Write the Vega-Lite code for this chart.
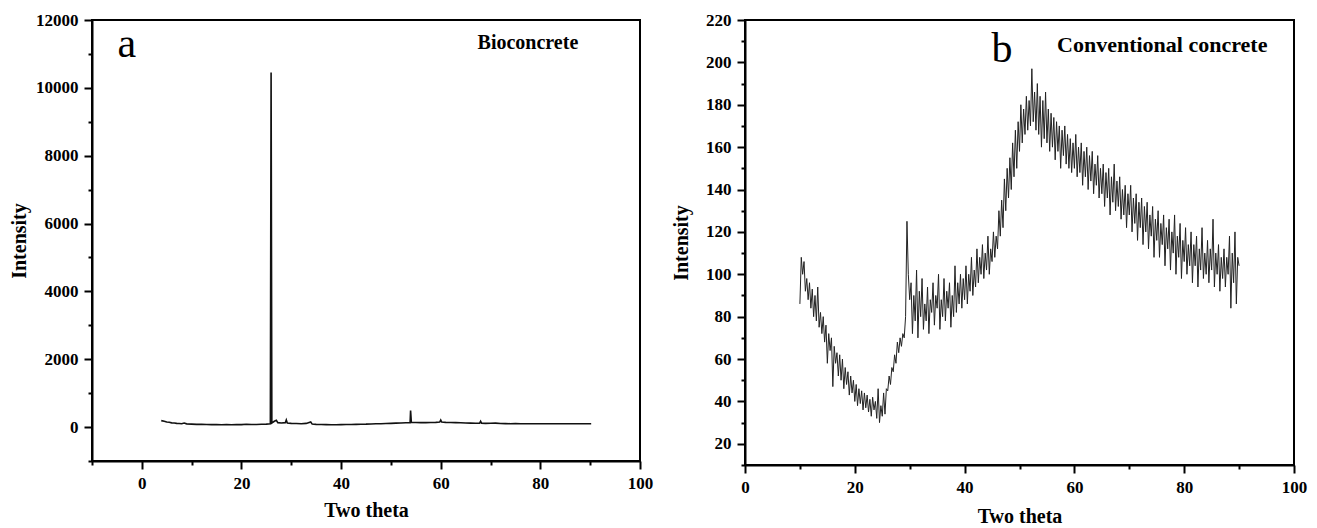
{
  "$schema": "https://vega.github.io/schema/vega-lite/v6.json",
  "padding": {"left": 8, "top": 10, "right": 5, "bottom": 0},
  "background": "white",
  "spacing": 105,
  "bounds": "flush",
  "datasets": {
    "bio": [
      {"t": 3.9, "i": 190}, {"t": 4.5, "i": 170}, {"t": 5, "i": 150}, {"t": 5.5, "i": 140}, {"t": 6, "i": 125},
      {"t": 6.5, "i": 118}, {"t": 7, "i": 108}, {"t": 7.5, "i": 104}, {"t": 8, "i": 100}, {"t": 8.5, "i": 118},
      {"t": 9, "i": 95}, {"t": 10, "i": 88}, {"t": 11, "i": 80}, {"t": 12, "i": 80}, {"t": 13, "i": 74},
      {"t": 14, "i": 72}, {"t": 15, "i": 75}, {"t": 16, "i": 70}, {"t": 17, "i": 72}, {"t": 18, "i": 70},
      {"t": 19, "i": 76}, {"t": 20, "i": 72}, {"t": 21, "i": 82}, {"t": 22, "i": 75}, {"t": 23, "i": 78},
      {"t": 24, "i": 84}, {"t": 25, "i": 86}, {"t": 25.8, "i": 100}, {"t": 25.95, "i": 10450}, {"t": 26.1, "i": 120},
      {"t": 26.6, "i": 170}, {"t": 27, "i": 200}, {"t": 27.3, "i": 130}, {"t": 28, "i": 120}, {"t": 28.8, "i": 130},
      {"t": 29, "i": 210}, {"t": 29.2, "i": 120}, {"t": 30, "i": 110}, {"t": 31, "i": 104}, {"t": 32, "i": 100},
      {"t": 33, "i": 108}, {"t": 33.9, "i": 150}, {"t": 34.2, "i": 88}, {"t": 35, "i": 80}, {"t": 36, "i": 75},
      {"t": 37, "i": 72}, {"t": 38, "i": 70}, {"t": 39, "i": 70}, {"t": 40, "i": 72}, {"t": 41, "i": 76},
      {"t": 42, "i": 78}, {"t": 43, "i": 80}, {"t": 44, "i": 84}, {"t": 45, "i": 86}, {"t": 46, "i": 92},
      {"t": 47, "i": 96}, {"t": 48, "i": 100}, {"t": 49, "i": 106}, {"t": 50, "i": 110}, {"t": 51, "i": 116},
      {"t": 52, "i": 120}, {"t": 53, "i": 126}, {"t": 53.85, "i": 130}, {"t": 53.95, "i": 490}, {"t": 54.1, "i": 140},
      {"t": 55, "i": 136}, {"t": 56, "i": 130}, {"t": 57, "i": 130}, {"t": 58, "i": 134}, {"t": 59, "i": 140},
      {"t": 59.8, "i": 150}, {"t": 60, "i": 210}, {"t": 60.2, "i": 150}, {"t": 61, "i": 140}, {"t": 62, "i": 136},
      {"t": 63, "i": 130}, {"t": 64, "i": 126}, {"t": 65, "i": 120}, {"t": 66, "i": 116}, {"t": 67, "i": 112},
      {"t": 67.8, "i": 112}, {"t": 68, "i": 170}, {"t": 68.2, "i": 116}, {"t": 69, "i": 110}, {"t": 70, "i": 112},
      {"t": 71, "i": 116}, {"t": 72, "i": 106}, {"t": 73, "i": 102}, {"t": 74, "i": 100}, {"t": 75, "i": 104},
      {"t": 76, "i": 98}, {"t": 77, "i": 100}, {"t": 78, "i": 96}, {"t": 79, "i": 100}, {"t": 80, "i": 98},
      {"t": 81, "i": 100}, {"t": 82, "i": 96}, {"t": 83, "i": 98}, {"t": 84, "i": 100}, {"t": 85, "i": 96},
      {"t": 86, "i": 98}, {"t": 87, "i": 100}, {"t": 88, "i": 96}, {"t": 89, "i": 100}, {"t": 90.2, "i": 100}
    ],
    "conv": [
      {"t": 10.00, "i": 86}, {"t": 10.25, "i": 108}, {"t": 10.50, "i": 100}, {"t": 10.75, "i": 106}, {"t": 11.00, "i": 92},
      {"t": 11.25, "i": 98}, {"t": 11.50, "i": 88}, {"t": 11.75, "i": 96}, {"t": 12.00, "i": 84}, {"t": 12.25, "i": 93},
      {"t": 12.50, "i": 80}, {"t": 12.75, "i": 90}, {"t": 13.00, "i": 78}, {"t": 13.25, "i": 94}, {"t": 13.50, "i": 75},
      {"t": 13.75, "i": 82}, {"t": 14.00, "i": 72}, {"t": 14.25, "i": 80}, {"t": 14.50, "i": 68}, {"t": 14.75, "i": 76},
      {"t": 15.00, "i": 58}, {"t": 15.25, "i": 72}, {"t": 15.50, "i": 64}, {"t": 15.75, "i": 70}, {"t": 16.00, "i": 47},
      {"t": 16.25, "i": 66}, {"t": 16.50, "i": 58}, {"t": 16.75, "i": 63}, {"t": 17.00, "i": 52}, {"t": 17.25, "i": 62},
      {"t": 17.50, "i": 50}, {"t": 17.75, "i": 60}, {"t": 18.00, "i": 46}, {"t": 18.25, "i": 56}, {"t": 18.50, "i": 48},
      {"t": 18.75, "i": 54}, {"t": 19.00, "i": 43}, {"t": 19.25, "i": 52}, {"t": 19.50, "i": 44}, {"t": 19.75, "i": 50},
      {"t": 20.00, "i": 40}, {"t": 20.25, "i": 48}, {"t": 20.50, "i": 38}, {"t": 20.75, "i": 46}, {"t": 21.00, "i": 39},
      {"t": 21.25, "i": 45}, {"t": 21.50, "i": 36}, {"t": 21.75, "i": 44}, {"t": 22.00, "i": 37}, {"t": 22.25, "i": 43},
      {"t": 22.50, "i": 35}, {"t": 22.75, "i": 41}, {"t": 23.00, "i": 33}, {"t": 23.25, "i": 42}, {"t": 23.50, "i": 36},
      {"t": 23.75, "i": 40}, {"t": 24.00, "i": 32}, {"t": 24.25, "i": 46}, {"t": 24.50, "i": 30}, {"t": 24.75, "i": 38},
      {"t": 25.00, "i": 33}, {"t": 25.25, "i": 44}, {"t": 25.50, "i": 34}, {"t": 25.75, "i": 46}, {"t": 26.00, "i": 45},
      {"t": 26.25, "i": 52}, {"t": 26.50, "i": 48}, {"t": 26.75, "i": 56}, {"t": 27.00, "i": 54}, {"t": 27.25, "i": 62},
      {"t": 27.50, "i": 58}, {"t": 27.75, "i": 68}, {"t": 28.00, "i": 63}, {"t": 28.25, "i": 70}, {"t": 28.50, "i": 66},
      {"t": 28.75, "i": 72}, {"t": 29.00, "i": 70}, {"t": 29.25, "i": 80}, {"t": 29.50, "i": 125}, {"t": 29.75, "i": 100},
      {"t": 30.00, "i": 88}, {"t": 30.25, "i": 96}, {"t": 30.50, "i": 72}, {"t": 30.75, "i": 90}, {"t": 31.00, "i": 78},
      {"t": 31.25, "i": 102}, {"t": 31.50, "i": 70}, {"t": 31.75, "i": 92}, {"t": 32.00, "i": 80}, {"t": 32.25, "i": 98},
      {"t": 32.50, "i": 74}, {"t": 32.75, "i": 86}, {"t": 33.00, "i": 78}, {"t": 33.25, "i": 94}, {"t": 33.50, "i": 72},
      {"t": 33.75, "i": 88}, {"t": 34.00, "i": 82}, {"t": 34.25, "i": 96}, {"t": 34.50, "i": 76}, {"t": 34.75, "i": 90},
      {"t": 35.00, "i": 84}, {"t": 35.25, "i": 100}, {"t": 35.50, "i": 74}, {"t": 35.75, "i": 88}, {"t": 36.00, "i": 80},
      {"t": 36.25, "i": 98}, {"t": 36.50, "i": 78}, {"t": 36.75, "i": 92}, {"t": 37.00, "i": 84}, {"t": 37.25, "i": 96},
      {"t": 37.50, "i": 75}, {"t": 37.75, "i": 90}, {"t": 38.00, "i": 80}, {"t": 38.25, "i": 104}, {"t": 38.50, "i": 82},
      {"t": 38.75, "i": 96}, {"t": 39.00, "i": 86}, {"t": 39.25, "i": 100}, {"t": 39.50, "i": 84}, {"t": 39.75, "i": 98},
      {"t": 40.00, "i": 88}, {"t": 40.25, "i": 104}, {"t": 40.50, "i": 86}, {"t": 40.75, "i": 100}, {"t": 41.00, "i": 92},
      {"t": 41.25, "i": 108}, {"t": 41.50, "i": 90}, {"t": 41.75, "i": 102}, {"t": 42.00, "i": 94}, {"t": 42.25, "i": 112},
      {"t": 42.50, "i": 96}, {"t": 42.75, "i": 108}, {"t": 43.00, "i": 100}, {"t": 43.25, "i": 114}, {"t": 43.50, "i": 98},
      {"t": 43.75, "i": 110}, {"t": 44.00, "i": 102}, {"t": 44.25, "i": 118}, {"t": 44.50, "i": 100}, {"t": 44.75, "i": 112},
      {"t": 45.00, "i": 106}, {"t": 45.25, "i": 120}, {"t": 45.50, "i": 108}, {"t": 45.75, "i": 118}, {"t": 46.00, "i": 112},
      {"t": 46.25, "i": 130}, {"t": 46.50, "i": 118}, {"t": 46.75, "i": 135}, {"t": 47.00, "i": 122}, {"t": 47.25, "i": 145},
      {"t": 47.50, "i": 130}, {"t": 47.75, "i": 150}, {"t": 48.00, "i": 136}, {"t": 48.25, "i": 155}, {"t": 48.50, "i": 140},
      {"t": 48.75, "i": 162}, {"t": 49.00, "i": 146}, {"t": 49.25, "i": 168}, {"t": 49.50, "i": 150}, {"t": 49.75, "i": 172},
      {"t": 50.00, "i": 158}, {"t": 50.25, "i": 180}, {"t": 50.50, "i": 162}, {"t": 50.75, "i": 178}, {"t": 51.00, "i": 166},
      {"t": 51.25, "i": 184}, {"t": 51.50, "i": 168}, {"t": 51.75, "i": 182}, {"t": 52.00, "i": 170}, {"t": 52.25, "i": 197},
      {"t": 52.50, "i": 172}, {"t": 52.75, "i": 186}, {"t": 53.00, "i": 168}, {"t": 53.25, "i": 190}, {"t": 53.50, "i": 166},
      {"t": 53.75, "i": 184}, {"t": 54.00, "i": 160}, {"t": 54.25, "i": 182}, {"t": 54.50, "i": 164}, {"t": 54.75, "i": 186},
      {"t": 55.00, "i": 162}, {"t": 55.25, "i": 178}, {"t": 55.50, "i": 158}, {"t": 55.75, "i": 176}, {"t": 56.00, "i": 160},
      {"t": 56.25, "i": 174}, {"t": 56.50, "i": 154}, {"t": 56.75, "i": 172}, {"t": 57.00, "i": 158}, {"t": 57.25, "i": 170},
      {"t": 57.50, "i": 150}, {"t": 57.75, "i": 168}, {"t": 58.00, "i": 156}, {"t": 58.25, "i": 170}, {"t": 58.50, "i": 152},
      {"t": 58.75, "i": 166}, {"t": 59.00, "i": 150}, {"t": 59.25, "i": 164}, {"t": 59.50, "i": 148}, {"t": 59.75, "i": 162},
      {"t": 60.00, "i": 150}, {"t": 60.25, "i": 166}, {"t": 60.50, "i": 146}, {"t": 60.75, "i": 160}, {"t": 61.00, "i": 148},
      {"t": 61.25, "i": 162}, {"t": 61.50, "i": 142}, {"t": 61.75, "i": 158}, {"t": 62.00, "i": 146}, {"t": 62.25, "i": 160},
      {"t": 62.50, "i": 140}, {"t": 62.75, "i": 156}, {"t": 63.00, "i": 144}, {"t": 63.25, "i": 158}, {"t": 63.50, "i": 138},
      {"t": 63.75, "i": 152}, {"t": 64.00, "i": 142}, {"t": 64.25, "i": 156}, {"t": 64.50, "i": 136}, {"t": 64.75, "i": 150},
      {"t": 65.00, "i": 138}, {"t": 65.25, "i": 152}, {"t": 65.50, "i": 132}, {"t": 65.75, "i": 148}, {"t": 66.00, "i": 136},
      {"t": 66.25, "i": 150}, {"t": 66.50, "i": 128}, {"t": 66.75, "i": 146}, {"t": 67.00, "i": 134}, {"t": 67.25, "i": 152},
      {"t": 67.50, "i": 130}, {"t": 67.75, "i": 144}, {"t": 68.00, "i": 132}, {"t": 68.25, "i": 146}, {"t": 68.50, "i": 126},
      {"t": 68.75, "i": 140}, {"t": 69.00, "i": 128}, {"t": 69.25, "i": 142}, {"t": 69.50, "i": 122}, {"t": 69.75, "i": 138},
      {"t": 70.00, "i": 128}, {"t": 70.25, "i": 142}, {"t": 70.50, "i": 120}, {"t": 70.75, "i": 136}, {"t": 71.00, "i": 124},
      {"t": 71.25, "i": 138}, {"t": 71.50, "i": 116}, {"t": 71.75, "i": 134}, {"t": 72.00, "i": 122}, {"t": 72.25, "i": 136},
      {"t": 72.50, "i": 114}, {"t": 72.75, "i": 132}, {"t": 73.00, "i": 120}, {"t": 73.25, "i": 134}, {"t": 73.50, "i": 112},
      {"t": 73.75, "i": 128}, {"t": 74.00, "i": 118}, {"t": 74.25, "i": 132}, {"t": 74.50, "i": 108}, {"t": 74.75, "i": 126},
      {"t": 75.00, "i": 116}, {"t": 75.25, "i": 130}, {"t": 75.50, "i": 108}, {"t": 75.75, "i": 124}, {"t": 76.00, "i": 114},
      {"t": 76.25, "i": 128}, {"t": 76.50, "i": 104}, {"t": 76.75, "i": 122}, {"t": 77.00, "i": 112}, {"t": 77.25, "i": 126},
      {"t": 77.50, "i": 102}, {"t": 77.75, "i": 120}, {"t": 78.00, "i": 110}, {"t": 78.25, "i": 128}, {"t": 78.50, "i": 100},
      {"t": 78.75, "i": 118}, {"t": 79.00, "i": 108}, {"t": 79.25, "i": 124}, {"t": 79.50, "i": 98}, {"t": 79.75, "i": 116},
      {"t": 80.00, "i": 106}, {"t": 80.25, "i": 122}, {"t": 80.50, "i": 100}, {"t": 80.75, "i": 114}, {"t": 81.00, "i": 104},
      {"t": 81.25, "i": 120}, {"t": 81.50, "i": 96}, {"t": 81.75, "i": 114}, {"t": 82.00, "i": 104}, {"t": 82.25, "i": 118},
      {"t": 82.50, "i": 94}, {"t": 82.75, "i": 112}, {"t": 83.00, "i": 102}, {"t": 83.25, "i": 122}, {"t": 83.50, "i": 98},
      {"t": 83.75, "i": 110}, {"t": 84.00, "i": 100}, {"t": 84.25, "i": 116}, {"t": 84.50, "i": 96}, {"t": 84.75, "i": 112},
      {"t": 85.00, "i": 102}, {"t": 85.25, "i": 126}, {"t": 85.50, "i": 94}, {"t": 85.75, "i": 110}, {"t": 86.00, "i": 100},
      {"t": 86.25, "i": 114}, {"t": 86.50, "i": 92}, {"t": 86.75, "i": 108}, {"t": 87.00, "i": 98}, {"t": 87.25, "i": 112},
      {"t": 87.50, "i": 94}, {"t": 87.75, "i": 108}, {"t": 88.00, "i": 100}, {"t": 88.25, "i": 118}, {"t": 88.50, "i": 84},
      {"t": 88.75, "i": 110}, {"t": 89.00, "i": 96}, {"t": 89.25, "i": 120}, {"t": 89.50, "i": 86}, {"t": 89.75, "i": 108},
      {"t": 90.00, "i": 104}
    ],
    "labA": [
      {"t": -3, "i": 10900, "txt": "a", "kind": "letter"},
      {"t": 77.5, "i": 11150, "txt": "Bioconcrete", "kind": "name"}
    ],
    "labB": [
      {"t": 46.8, "i": 200, "txt": "b", "kind": "letter"},
      {"t": 76, "i": 205, "txt": "Conventional concrete", "kind": "name"}
    ]
  },
  "hconcat": [
    {
      "width": 548,
      "height": 441,
      "resolve": {"axis": {"y": "independent"}},
      "layer": [
        {
          "data": {"name": "bio"},
          "mark": {"type": "line", "color": "#111111", "strokeWidth": 1.6, "interpolate": "linear"},
          "encoding": {
            "x": {"field": "t", "type": "quantitative", "scale": {"domain": [-10, 100], "nice": false, "zero": false},
              "axis": {"title": "Two theta", "values": [-10, 0, 10, 20, 30, 40, 50, 60, 70, 80, 90, 100],
                "labelExpr": "datum.value % 20 === 0 ? datum.label : ''",
                "tickSize": 8,
                "tickDash": {"condition": {"test": "datum.value % 20 === 0", "value": []}, "value": [4, 20]},
                "titlePadding": 9}},
            "y": {"field": "i", "type": "quantitative", "scale": {"domain": [-1000, 12000], "nice": false, "zero": false},
              "axis": {"title": "Intensity", "format": "d", "orient": "left",
                "values": [0, 2000, 4000, 6000, 8000, 10000, 12000],
                "tickSize": 8,
                "titlePadding": 6}}
          }
        },
        {
          "data": {"name": "labA"},
          "transform": [{"filter": "datum.kind === 'letter'"}],
          "mark": {"type": "text", "font": "Liberation Serif", "fontSize": 42, "baseline": "alphabetic", "align": "center", "color": "black"},
          "encoding": {
            "x": {"field": "t", "type": "quantitative"},
            "y": {"field": "i", "type": "quantitative", "axis": null},
            "text": {"field": "txt"}
          }
        },
        {
          "data": {"name": "labA"},
          "transform": [{"filter": "datum.kind === 'name'"}],
          "mark": {"type": "text", "font": "Liberation Serif", "fontSize": 20, "fontWeight": "bold", "baseline": "alphabetic", "align": "center", "color": "black"},
          "encoding": {
            "x": {"field": "t", "type": "quantitative"},
            "y": {"field": "i", "type": "quantitative",
              "axis": {"orient": "left", "title": null, "labels": false, "domain": false, "tickSize": 4,
                "values": [-1000, 1000, 3000, 5000, 7000, 9000, 11000]}},
            "text": {"field": "txt"}
          }
        }
      ]
    },
    {
      "width": 549,
      "height": 445,
      "resolve": {"axis": {"y": "independent"}},
      "layer": [
        {
          "data": {"name": "conv"},
          "mark": {"type": "line", "color": "#222222", "strokeWidth": 1, "interpolate": "linear"},
          "encoding": {
            "x": {"field": "t", "type": "quantitative", "scale": {"domain": [0, 100], "nice": false, "zero": false},
              "axis": {"title": "Two theta", "values": [0, 10, 20, 30, 40, 50, 60, 70, 80, 90, 100],
                "labelExpr": "datum.value % 20 === 0 ? datum.label : ''",
                "tickSize": 8,
                "tickDash": {"condition": {"test": "datum.value % 20 === 0", "value": []}, "value": [4, 20]},
                "titlePadding": 11}},
            "y": {"field": "i", "type": "quantitative", "scale": {"domain": [10, 220], "nice": false, "zero": false},
              "axis": {"title": "Intensity", "orient": "left",
                "values": [20, 40, 60, 80, 100, 120, 140, 160, 180, 200, 220],
                "tickSize": 8,
                "titlePadding": 14}}
          }
        },
        {
          "data": {"name": "labB"},
          "transform": [{"filter": "datum.kind === 'letter'"}],
          "mark": {"type": "text", "font": "Liberation Serif", "fontSize": 42, "baseline": "alphabetic", "align": "center", "color": "black"},
          "encoding": {
            "x": {"field": "t", "type": "quantitative"},
            "y": {"field": "i", "type": "quantitative", "axis": null},
            "text": {"field": "txt"}
          }
        },
        {
          "data": {"name": "labB"},
          "transform": [{"filter": "datum.kind === 'name'"}],
          "mark": {"type": "text", "font": "Liberation Serif", "fontSize": 22, "fontWeight": "bold", "baseline": "alphabetic", "align": "center", "color": "black"},
          "encoding": {
            "x": {"field": "t", "type": "quantitative"},
            "y": {"field": "i", "type": "quantitative",
              "axis": {"orient": "left", "title": null, "labels": false, "domain": false, "tickSize": 4,
                "values": [10, 30, 50, 70, 90, 110, 130, 150, 170, 190, 210]}},
            "text": {"field": "txt"}
          }
        }
      ]
    }
  ],
  "config": {
    "view": {"stroke": "black", "strokeWidth": 2},
    "axis": {
      "labelFont": "Liberation Serif", "labelFontWeight": "bold", "labelFontSize": 17, "labelColor": "black",
      "titleFont": "Liberation Serif", "titleFontWeight": "bold", "titleFontSize": 20, "titleColor": "black",
      "domainColor": "black", "domainWidth": 2, "tickColor": "black", "tickWidth": 2, "grid": false,
      "labelPadding": 6, "labelFlush": false, "labelOverlap": false
    }
  }
}
